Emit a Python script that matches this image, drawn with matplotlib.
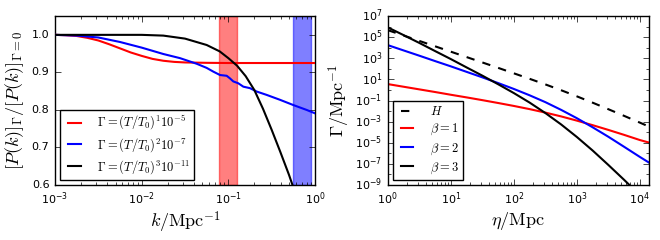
import numpy as np
import matplotlib
matplotlib.use("Agg")
import matplotlib.pyplot as plt
from matplotlib.ticker import FixedLocator, NullFormatter

plt.style.use('classic')
plt.rcParams['mathtext.fontset'] = 'cm'
plt.rcParams['font.family'] = ['DejaVu Sans']

# ---------------- Left panel data ----------------
k_red_log = [-3.0, -2.875, -2.75, -2.625, -2.5, -2.375, -2.25, -2.125, -2.0, -1.875,
             -1.75, -1.625, -1.5, -1.25, -1.0, -0.5, 0.0]
ratio_red = [1.0, 0.999, 0.997, 0.992, 0.985, 0.975, 0.964, 0.953, 0.944, 0.936,
             0.931, 0.928, 0.9265, 0.9255, 0.925, 0.925, 0.925]

k_blue_log = [-3.0, -2.75, -2.5, -2.25, -2.0, -1.75, -1.558, -1.365, -1.25, -1.173,
              -1.096, -1.019, -0.981, -0.943, -0.885, -0.827, -0.75, -0.673, -0.557,
              -0.404, -0.25, -0.096, 0.0]
ratio_blue = [1.0, 0.998, 0.993, 0.981, 0.966, 0.949, 0.938, 0.923, 0.912, 0.902,
              0.893, 0.891, 0.884, 0.876, 0.871, 0.862, 0.858, 0.849, 0.840,
              0.827, 0.813, 0.800, 0.791]

k_black_log = [-3.0, -2.0, -1.75, -1.5, -1.25, -1.1, -1.0, -0.9, -0.8, -0.7,
               -0.6, -0.5, -0.4, -0.3, -0.2]
ratio_black = [1.0, 1.0, 0.998, 0.99, 0.973, 0.956, 0.938, 0.918, 0.89, 0.853,
               0.803, 0.747, 0.688, 0.627, 0.56]

left_labels = [r'$\Gamma=(T/T_0)^1 10^{-5}$',
               r'$\Gamma=(T/T_0)^2 10^{-7}$',
               r'$\Gamma=(T/T_0)^3 10^{-11}$']
red_band = [0.0787, 0.125]
blue_band = [0.562, 0.891]

# ---------------- Right panel data (log10 values) ----------------
eta_log = [0.0, 0.25, 0.5, 0.75, 1.0, 1.25, 1.5, 1.75, 2.0, 2.25, 2.5, 2.75,
           3.0, 3.25, 3.5, 3.75, 4.0, 4.146]
H_log = [5.67, 5.16, 4.65, 4.14, 3.63, 3.12, 2.61, 2.10, 1.58, 1.06, 0.53, -0.02,
         -0.60, -1.20, -1.82, -2.45, -3.09, -3.47]
beta1_log = [0.56, 0.31, 0.06, -0.19, -0.45, -0.70, -0.96, -1.23, -1.51, -1.81, -2.14,
             -2.50, -2.90, -3.33, -3.78, -4.25, -4.74, -4.98]
beta2_log = [4.25, 3.75, 3.25, 2.74, 2.24, 1.72, 1.20, 0.66, 0.10, -0.50, -1.15,
             -1.88, -2.67, -3.53, -4.43, -5.38, -6.34, -6.88]
beta3_log = [5.93, 5.20, 4.46, 3.69, 2.93, 2.14, 1.36, 0.55, -0.29, -1.19, -2.18,
             -3.26, -4.45, -5.73, -7.10, -8.51, -9.96, -10.8]
right_labels = [r'$H$', r'$\beta=1$', r'$\beta=2$', r'$\beta=3$']

fig = plt.figure(figsize=(6.6, 2.4), dpi=100, facecolor='white')
ax1 = fig.add_axes([0.0833, 0.229, 0.394, 0.704])
ax2 = fig.add_axes([0.5875, 0.229, 0.396, 0.704])

lw = 1.5
leg_kw = dict(loc='lower left', fontsize=9, frameon=True, fancybox=False,
              borderaxespad=0.4, handlelength=1.6, handletextpad=1.0,
              labelspacing=0.3, borderpad=0.35)

ax1.axvspan(red_band[0], red_band[1], color='red', alpha=0.5, zorder=1)
ax1.axvspan(blue_band[0], blue_band[1], color='blue', alpha=0.5, zorder=1)
ax1.plot(10 ** np.array(k_red_log), ratio_red, color='red', lw=lw, label=left_labels[0], zorder=3)
ax1.plot(10 ** np.array(k_blue_log), ratio_blue, color='blue', lw=lw, label=left_labels[1], zorder=3)
ax1.plot(10 ** np.array(k_black_log), ratio_black, color='black', lw=lw, label=left_labels[2], zorder=3)
ax1.set_xscale('log')
ax1.set_xlim(1e-3, 1)
ax1.set_ylim(0.6, 1.05)
ax1.set_yticks([0.6, 0.7, 0.8, 0.9, 1.0])
ax1.set_xlabel(r'$k/\mathrm{Mpc}^{-1}$', fontsize=13, labelpad=2)
ax1.set_ylabel(r'$[P(k)]_\Gamma/[P(k)]_{\Gamma=0}$', fontsize=13, labelpad=4)
ax1.tick_params(labelsize=8)
leg1 = ax1.legend(**leg_kw)
leg1.get_frame().set_edgecolor('black')

ax2.plot(10 ** np.array(eta_log), 10 ** np.array(H_log), color='black', ls='--', lw=lw, label=right_labels[0])
ax2.plot(10 ** np.array(eta_log), 10 ** np.array(beta1_log), color='red', lw=lw, label=right_labels[1])
ax2.plot(10 ** np.array(eta_log), 10 ** np.array(beta2_log), color='blue', lw=lw, label=right_labels[2])
ax2.plot(10 ** np.array(eta_log), 10 ** np.array(beta3_log), color='black', lw=lw, label=right_labels[3])
ax2.set_xscale('log')
ax2.set_yscale('log')
ax2.set_xlim(1, 1.4e4)
ax2.set_ylim(1e-9, 1e7)
ax2.yaxis.set_major_locator(FixedLocator([10.0 ** e for e in range(-9, 8, 2)]))
ax2.yaxis.set_minor_locator(FixedLocator([10.0 ** e for e in range(-8, 7, 2)]))
ax2.yaxis.set_minor_formatter(NullFormatter())
ax2.set_xlabel(r'$\eta/\mathrm{Mpc}$', fontsize=13, labelpad=2)
ax2.set_ylabel(r'$\Gamma/\mathrm{Mpc}^{-1}$', fontsize=13, labelpad=2)
ax2.tick_params(labelsize=8)
leg2 = ax2.legend(**leg_kw)
leg2.get_frame().set_edgecolor('black')

fig.savefig('out.png', dpi=100, facecolor='white')
